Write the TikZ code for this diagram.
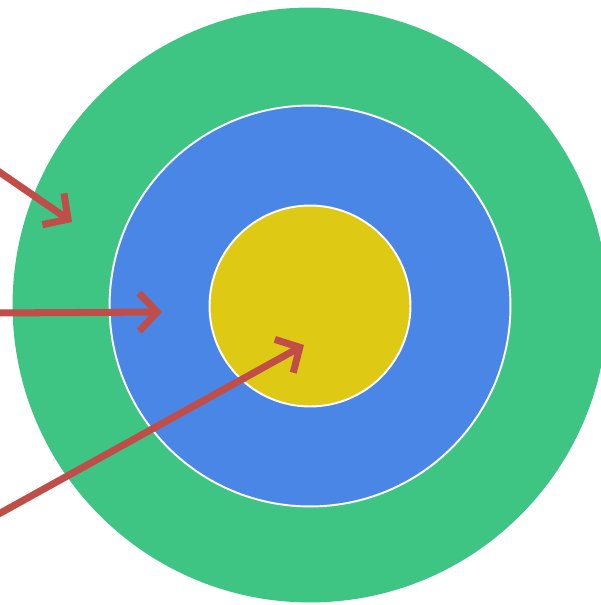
\documentclass[tikz,border=0pt]{standalone}
\usetikzlibrary{arrows.meta}
\definecolor{ringgreen}{RGB}{62,197,132}
\definecolor{ringblue}{RGB}{74,134,230}
\definecolor{ringyellow}{RGB}{222,201,20}
\definecolor{arrowred}{RGB}{192,77,72}
\begin{document}
\begin{tikzpicture}[x=0.02cm, y=-0.02cm,
    ring/.style={circle, inner sep=0pt, outer sep=0pt},
    pointer/.style={draw=arrowred, line width=4pt,
      -{Straight Barb[length=0.36cm, width=0.76cm, line cap=butt, line join=miter]}}]
  \useasboundingbox (0,0) rectangle (601,605);
  \clip (0,0) rectangle (601,605);

  \node[ring, fill=ringgreen, minimum size=11.9cm] (outer) at (310,305) {};
  \node[ring, fill=ringblue, draw=white, line width=1.1pt, minimum size=8.02cm] (middle) at (310,306) {};
  \node[ring, fill=ringyellow, draw=white, line width=1.1pt, minimum size=4.02cm] (inner) at (310,306) {};

  \coordinate (s1) at (-5,169);
  \coordinate (t1) at (72,222);
  \coordinate (s2) at (-5,313);
  \coordinate (t2) at (162,312);
  \coordinate (s3) at (-5,516);
  \coordinate (t3) at (304,345);

  \draw[pointer] (s1) -- (t1);
  \draw[pointer] (s2) -- (t2);
  \draw[pointer] (s3) -- (t3);
\end{tikzpicture}
\end{document}
